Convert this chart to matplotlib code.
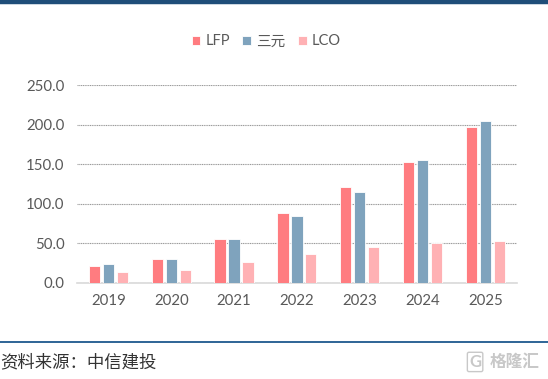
import numpy as np
import matplotlib.pyplot as plt
from matplotlib.lines import Line2D

plt.rcParams['font.family'] = ['Lato', 'Noto Sans CJK SC', 'DejaVu Sans']

years = ['2019', '2020', '2021', '2022', '2023', '2024', '2025']
lfp = [22, 30, 55.5, 88.5, 121, 152.5, 196.5]
ncm = [24, 30, 55.5, 84.5, 114.5, 155, 205]
lco = [13.5, 16, 26, 36.5, 46, 50, 53]
series_names = ['LFP', '三元', 'LCO']
colors = ['#FF7C80', '#7FA3BD', '#FFB1B4']

fig = plt.figure(figsize=(5.48, 3.79), dpi=100)
ax = fig.add_axes([0.1405, 0.2533, 0.8025, 0.5224])

x = np.arange(len(years))
w = 0.18
off = 0.222
for i, (vals, name, c) in enumerate(zip([lfp, ncm, lco], series_names, colors)):
    ax.bar(x + (i - 1) * off, vals, width=w, color=c, label=name,
           edgecolor='white', linewidth=0.6, zorder=3)

ax.set_xlim(-0.5, len(years) - 0.5)
ax.set_ylim(0, 250)
ax.set_yticks(np.arange(0, 251, 50))
ax.set_yticklabels([f'{v:.1f}' for v in np.arange(0, 251, 50)])
ax.set_xticks(x)
ax.set_xticklabels(years)
ax.tick_params(axis='both', length=0, labelsize=10.8, colors='#595959')
ax.tick_params(axis='x', pad=8)
ax.tick_params(axis='y', pad=9)
ax.yaxis.grid(True, linestyle=(0, (1, 0.6)), color='#9A9A9A', linewidth=0.8, zorder=0)
for s in ['top', 'right', 'left']:
    ax.spines[s].set_visible(False)
ax.spines['bottom'].set_color('#D9D9D9')
ax.spines['bottom'].set_linewidth(1.2)

leg = fig.legend(loc='center', bbox_to_anchor=(0.486, 0.891), ncol=3, frameon=False,
                 fontsize=10.5, handlelength=0.6, handleheight=0.6, handletextpad=0.35,
                 columnspacing=0.85)
for t in leg.get_texts():
    t.set_color('#595959')

# header / footer decorations
fig.add_artist(Line2D([0, 1], [0.995, 0.995], color='#1F4E79', linewidth=3.2))
fig.add_artist(Line2D([0, 1], [0.098, 0.098], color='#2E6496', linewidth=1.4))
fig.text(0.0, 0.043, '资料来源：中信建投', fontsize=12.5, color='#333333',
         family=['Noto Sans CJK SC'], va='center', ha='left')
fig.text(0.985, 0.045, '格隆汇', fontsize=12, color='#C8C8C8',
         family=['Noto Sans CJK SC'], va='center', ha='right', fontweight='bold')
fig.text(0.878, 0.045, 'G', fontsize=12, color='#C8C8C8', va='center', ha='right',
         fontweight='bold',
         bbox=dict(boxstyle='round,pad=0.1', fc='none', ec='#C8C8C8', lw=1))

fig.savefig('out.png', dpi=100)
